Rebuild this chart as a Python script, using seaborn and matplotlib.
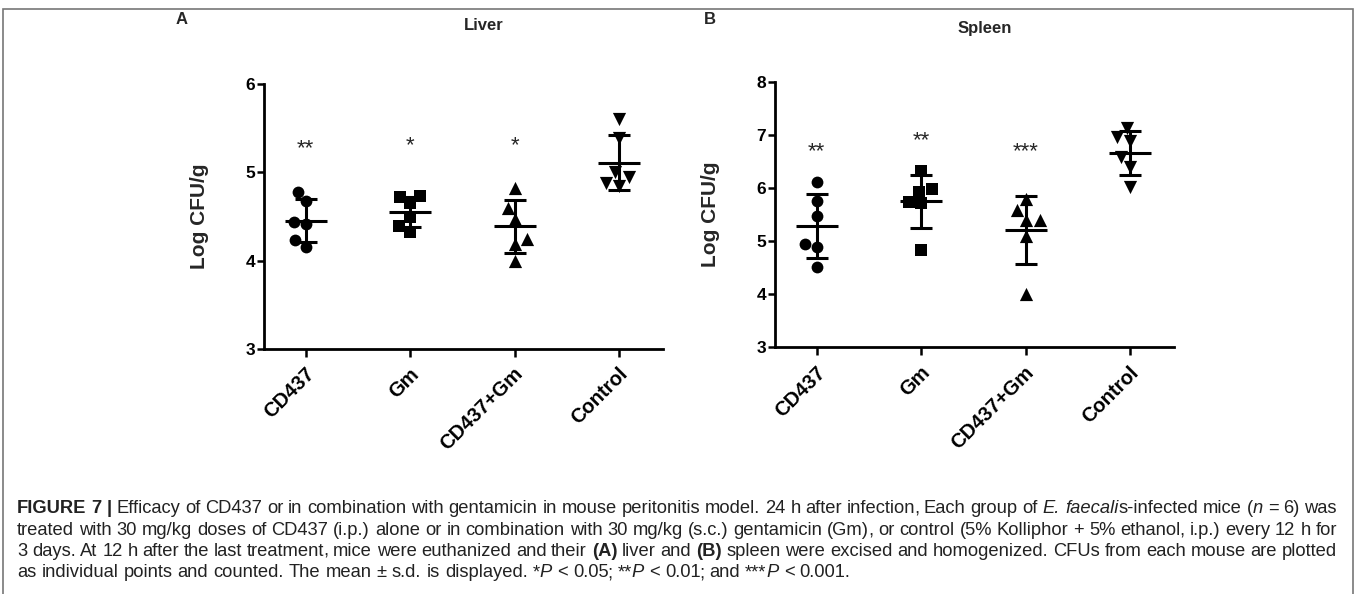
import re
import numpy as np
import pandas as pd
import matplotlib
matplotlib.use("Agg")
import matplotlib.pyplot as plt
import matplotlib.transforms as mtransforms
from matplotlib.patches import Rectangle
import seaborn as sns

# ── Data ─────────────────────────────────────────────────────────────────────
GROUPS  = ["CD437", "Gm", "CD437+Gm", "Control"]
MARKERS = ["o", "s", "^", "v"]

LIVER_CD437   = [4.78, 4.68, 4.44, 4.41, 4.23, 4.16]
LIVER_GM      = [4.72, 4.73, 4.65, 4.50, 4.39, 4.33]
LIVER_COMBO   = [4.82, 4.60, 4.47, 4.25, 4.19, 4.00]
LIVER_CONTROL = [5.60, 5.39, 5.00, 4.95, 4.88, 4.84]

SPLEEN_CD437   = [6.11, 5.76, 5.47, 4.94, 4.88, 4.52]
SPLEEN_GM      = [6.31, 5.98, 5.93, 5.74, 5.71, 4.83]
SPLEEN_COMBO   = [5.80, 5.58, 5.40, 5.39, 5.10, 4.00]
SPLEEN_CONTROL = [7.12, 6.95, 6.88, 6.58, 6.39, 6.01]

LIVER_SIG    = ["**", "*", "*"]
LIVER_SIG_Y  = [5.34, 5.37, 5.37]
SPLEEN_SIG   = ["**", "**", "***"]
SPLEEN_SIG_Y = [6.81, 7.01, 6.81]

LIVER_TICKS  = [3, 4, 5, 6]
SPLEEN_TICKS = [3, 4, 5, 6, 7, 8]

CAPTION = [
    "[b]FIGURE 7 |[/b] Efficacy of CD437 or in combination with gentamicin in mouse peritonitis model. "
    "24 h after infection, Each group of [i]E. faecali[/i]s-infected mice ([i]n[/i] = 6) was",
    "treated with 30 mg/kg doses of CD437 (i.p.) alone or in combination with 30 mg/kg (s.c.) gentamicin (Gm), "
    "or control (5% Kolliphor + 5% ethanol, i.p.) every 12 h for",
    "3 days. At 12 h after the last treatment, mice were euthanized and their [b](A)[/b] liver and [b](B)[/b] "
    "spleen were excised and homogenized. CFUs from each mouse are plotted",
    "as individual points and counted. The mean ± s.d. is displayed. *[i]P[/i] < 0.05; **[i]P[/i] < 0.01; "
    "and ***[i]P[/i] < 0.001.",
]

# ── Setup ────────────────────────────────────────────────────────────────────
sns.set_style("ticks")
plt.rcParams["font.family"] = ["Liberation Sans", "DejaVu Sans"]
PLOT_FONT = ["Liberation Sans", "DejaVu Sans"]
CAP_FONT  = ["Liberation Sans", "DejaVu Sans"]

W, H = 1357, 594
fig = plt.figure(figsize=(W / 100, H / 100), dpi=100, facecolor="white")


def draw_panel(ax, values, ticks, sig, sig_y):
    df = pd.DataFrame({"group": np.repeat(GROUPS, [len(v) for v in values]),
                       "value": np.concatenate(values)})
    for g, m in zip(GROUPS, MARKERS):
        sns.swarmplot(data=df[df["group"] == g], x="group", y="value", order=GROUPS,
                      marker=m, color="black", size=9.5 if m in "^v" else 8.5,
                      ax=ax, zorder=3)
    stats = df.groupby("group", sort=False)["value"].agg(["mean", "std"])
    x = np.arange(len(GROUPS))
    ax.errorbar(x, stats["mean"], yerr=stats["std"], fmt="none", ecolor="black",
                elinewidth=2.2, capsize=8, capthick=2.2, zorder=4)
    ax.hlines(stats["mean"], x - 0.2, x + 0.2, color="black", lw=2.2, zorder=4)

    for i, (s, yv) in enumerate(zip(sig, sig_y)):
        ax.annotate(s, (i, yv), xytext=(0, -8.5), textcoords="offset points",
                    ha="center", va="baseline", fontsize=16, family=PLOT_FONT)

    ax.set_ylim(ticks[0], ticks[-1])
    ax.set_yticks(ticks)
    ax.set_xlim(-0.4, 3.42)
    sns.despine(ax=ax)
    for sp in ("left", "bottom"):
        ax.spines[sp].set_linewidth(2)
        ax.spines[sp].set_color("black")
    ax.tick_params(axis="y", length=5, width=1.8, pad=1.5, labelsize=12.5, colors="black")
    ax.tick_params(axis="x", length=6, width=1.8, pad=5, labelsize=14.5, colors="black")
    for lbl in ax.get_yticklabels():
        lbl.set_fontweight("bold")
    offset = mtransforms.ScaledTranslation(-1 / 72, 0, fig.dpi_scale_trans)
    for lbl in ax.get_xticklabels():
        lbl.set_fontweight("bold")
        lbl.set_rotation(45)
        lbl.set_ha("right")
        lbl.set_va("top")
        lbl.set_rotation_mode("anchor")
        lbl.set_transform(lbl.get_transform() + offset)
    ax.set_xlabel("")
    ax.set_ylabel("Log CFU/g", fontsize=15, fontweight="bold")
    ax.yaxis.set_label_coords(-0.137, 0.5)


ax1 = fig.add_axes([264 / W, 1 - 349 / H, 399 / W, 265 / H])
draw_panel(ax1, [LIVER_CD437, LIVER_GM, LIVER_COMBO, LIVER_CONTROL],
           LIVER_TICKS, LIVER_SIG, LIVER_SIG_Y)
ax2 = fig.add_axes([775 / W, 1 - 347.3 / H, 399 / W, 265.6 / H])
draw_panel(ax2, [SPLEEN_CD437, SPLEEN_GM, SPLEEN_COMBO, SPLEEN_CONTROL],
           SPLEEN_TICKS, SPLEEN_SIG, SPLEEN_SIG_Y)

# panel letters and titles
fig.text(182 / W, 1 - 19 / H, "A", ha="center", va="center", fontsize=12, fontweight="bold")
fig.text(484 / W, 1 - 25 / H, "Liver", ha="center", va="center", fontsize=12, fontweight="bold")
fig.text(710 / W, 1 - 19 / H, "B", ha="center", va="center", fontsize=12, fontweight="bold")
fig.text(985 / W, 1 - 28 / H, "Spleen", ha="center", va="center", fontsize=12, fontweight="bold")

# frame around the figure
fig.patches.append(Rectangle((3 / W, -0.1), 1350 / W, 1 - 9 / H + 0.1, transform=fig.transFigure,
                             fill=False, edgecolor="#777777", lw=1.2))


# ── Caption with mixed styles, justified lines ───────────────────────────────
def rich_line(markup, x0, y, size, justify_to=None):
    renderer = fig.canvas.get_renderer()
    words = [[]]
    for m in re.finditer(r"\[(b|i)\](.*?)\[/\1\]|([^\[]+)", markup):
        style = m.group(1) or ""
        text = m.group(2) if m.group(1) else m.group(3)
        for k, part in enumerate(text.split(" ")):
            if k > 0:
                words.append([])
            # keep commas/semicolons as separate pieces (avoids baseline jitter)
            for bit in re.split(r"([,;])", part):
                if bit:
                    words[-1].append((bit, style))
    words = [w for w in words if w]

    def make(txt, style):
        return fig.text(0, y, txt, fontsize=size, family=CAP_FONT, color="#222222",
                        fontweight="bold" if style == "b" else "normal",
                        fontstyle="italic" if style == "i" else "normal",
                        va="baseline", ha="left")

    placed = []
    widths = []
    for w in words:
        pieces = []
        total = 0
        for txt, style in w:
            t = make(txt, style)
            pw = t.get_window_extent(renderer).width
            if txt in ",;":
                pieces.append((t, pw, -1.5))
                total += pw - 1.5
            else:
                pieces.append((t, pw, 0))
                total += pw
        placed.append(pieces)
        widths.append(total)

    a = make("a a", ""); b = make("aa", "")
    space = a.get_window_extent(renderer).width - b.get_window_extent(renderer).width
    a.remove(); b.remove()
    gap = space
    if justify_to is not None and len(words) > 1:
        gap = max((justify_to - x0 - sum(widths)) / (len(words) - 1), space * 0.6)

    x = x0
    for pieces, tw in zip(placed, widths):
        xx = x
        for t, pw, shift in pieces:
            xx += shift
            t.set_x(xx / W)
            xx += pw
        x += tw + gap


CAP_Y = [513, 535, 556, 577]
for k, (line, yb) in enumerate(zip(CAPTION, CAP_Y)):
    rich_line(line, 17, 1 - yb / H, 13.2, justify_to=1337 if k < 3 else None)

fig.savefig("out.png", dpi=100, facecolor="white")
